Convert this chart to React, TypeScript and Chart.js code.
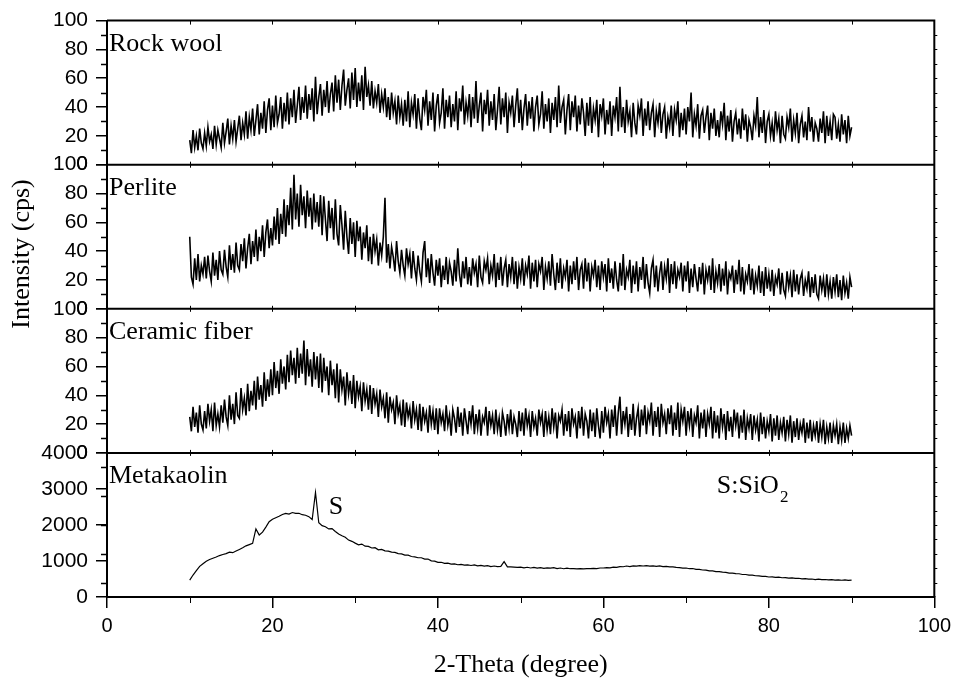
import React, { useEffect, useRef } from "react";
import { Chart, registerables } from "chart.js";

Chart.register(...registerables);

// Scan grids (2-theta, degree)
const SCAN_START = 10;
const NOISY_STEP = 0.2; // Rock wool, Perlite, Ceramic fiber
const MK_STEP = 0.4; // Metakaolin

const panelNames = ["Rock wool", "Perlite", "Ceramic fiber", "Metakaolin"];
const xTickValues = [0, 20, 40, 60, 80, 100];

// Intensity (cps), 10..90 deg
const rockWool = [
  17, 8, 24, 12, 20, 10, 25, 15, 11, 22,
  13, 26, 16, 21, 11, 27, 14, 24, 18, 12,
  29, 15, 23, 32, 14, 27, 18, 31, 16, 25,
  34, 17, 29, 21, 37, 18, 33, 24, 39, 20,
  31, 42, 21, 36, 25, 44, 22, 38, 46, 24,
  41, 26, 48, 29, 35, 47, 25, 43, 30, 50,
  28, 46, 33, 52, 29, 41, 54, 31, 47, 36,
  55, 32, 49, 38, 53, 30, 61, 35, 47, 56,
  34, 52, 40, 58, 36, 49, 57, 37, 62, 43,
  59, 38, 55, 66, 41, 52, 60, 39, 64, 45,
  67, 40, 57, 44, 62, 38, 68, 47, 55, 41,
  58, 39, 51, 43, 56, 36, 49, 40, 53, 33,
  47, 31, 50, 36, 44, 28, 48, 33, 42, 27,
  45, 30, 51, 26, 43, 35, 49, 25, 46, 32,
  24, 47, 38, 52, 27, 44, 31, 50, 23, 41,
  49, 29, 36, 53, 25, 45, 33, 48, 26, 42,
  30, 51, 24, 46, 37, 55, 28, 43, 34, 49,
  26, 47, 32, 58, 29, 41, 50, 23, 45, 35,
  52, 27, 44, 31, 49, 24, 38, 54, 28, 46,
  33, 50, 22, 43, 36, 48, 26, 41, 53, 29,
  45, 24, 39, 49, 27, 44, 32, 47, 23, 40,
  48, 28, 35, 51, 25, 42, 30, 46, 22, 43,
  31, 47, 26, 55, 29, 40, 45, 21, 38, 49,
  24, 44, 33, 48, 23, 41, 28, 46, 36, 20,
  43, 27, 47, 22, 39, 31, 45, 19, 42, 34,
  46, 21, 38, 28, 44, 20, 41, 33, 47, 23,
  54, 26, 40, 22, 45, 30, 37, 19, 43, 29,
  21, 41, 34, 46, 20, 39, 27, 44, 24, 36,
  42, 19, 37, 29, 43, 22, 35, 40, 18, 33,
  26, 41, 20, 38, 31, 44, 19, 36, 24, 39,
  21, 40, 30, 50, 19, 35, 27, 42, 18, 34,
  38, 22, 33, 41, 17, 36, 25, 39, 20, 31,
  19, 37, 28, 43, 17, 34, 23, 38, 16, 30,
  36, 21, 32, 18, 39, 24, 35, 16, 31, 26,
  17, 34, 27, 47, 19, 33, 22, 38, 15, 30,
  35, 20, 29, 16, 37, 24, 32, 15, 34, 21,
  18, 33, 26, 39, 16, 31, 22, 36, 15, 28,
  34, 19, 30, 17, 40, 23, 33, 16, 29, 25,
  16, 32, 22, 37, 15, 34, 20, 30, 17, 35,
  33, 18, 28, 16, 35, 21, 31, 15, 34, 20,
  26,
];

const perlite = [
  50, 22, 17, 35, 20, 38, 19, 30, 24, 36,
  21, 37, 26, 19, 39, 23, 34, 20, 40, 27,
  24, 41, 29, 22, 44, 27, 38, 25, 46, 30,
  27, 45, 33, 49, 28, 42, 52, 31, 47, 36,
  55, 33, 50, 40, 58, 36, 53, 62, 42, 56,
  44, 64, 48, 70, 45, 66, 52, 76, 50, 72,
  58, 84, 55, 93, 62, 80, 57, 86, 65, 78,
  56, 82, 64, 77, 55, 80, 60, 74, 57, 79,
  51, 78, 62, 47, 75, 56, 70, 48, 76, 52,
  44, 72, 58, 41, 68, 50, 38, 63, 45, 60,
  36, 61, 47, 57, 34, 53, 42, 58, 33, 50,
  31, 52, 40, 48, 30, 46, 37, 50, 77, 32,
  45, 28, 43, 36, 26, 47, 33, 25, 41, 30,
  23, 42, 31, 38, 21, 40, 28, 20, 37, 26,
  19, 39, 47, 22, 35, 18, 38, 25, 16, 34,
  23, 35, 15, 30, 20, 36, 17, 32, 26, 16,
  34, 19, 42, 24, 15, 33, 21, 36, 17, 29,
  16, 35, 25, 31, 15, 37, 22, 18, 33, 27,
  35, 17, 30, 23, 38, 15, 32, 20, 36, 16,
  28, 34, 15, 31, 22, 36, 17, 33, 14, 29,
  21, 35, 16, 30, 24, 37, 14, 32, 19, 34,
  15, 31, 26, 36, 13, 29, 21, 33, 16, 38,
  24, 13, 32, 18, 35, 14, 28, 22, 34, 12,
  30, 17, 33, 20, 36, 13, 27, 31, 14, 35,
  19, 32, 12, 29, 23, 34, 15, 30, 13, 33,
  22, 31, 12, 35, 18, 28, 14, 33, 20, 12,
  32, 16, 38, 13, 27, 22, 34, 11, 30, 17,
  33, 12, 29, 20, 36, 14, 31, 18, 11, 28,
  34, 15, 30, 12, 25, 33, 13, 29, 21, 35,
  11, 31, 17, 33, 14, 27, 22, 32, 12, 30,
  19, 33, 11, 28, 15, 31, 21, 12, 29, 17,
  32, 10, 27, 20, 30, 13, 35, 11, 26, 18,
  31, 12, 28, 16, 33, 10, 25, 21, 30, 11,
  27, 17, 34, 12, 29, 10, 24, 19, 31, 13,
  28, 10, 23, 16, 30, 11, 26, 9, 29, 14,
  24, 12, 27, 9, 22, 17, 28, 10, 25, 13,
  9, 26, 15, 23, 8, 27, 12, 24, 10, 21,
  25, 9, 20, 14, 26, 8, 22, 11, 24, 10,
  7, 23, 13, 21, 8, 24, 10, 19, 7, 22,
  12, 24, 8, 20, 6, 23, 11, 18, 7, 22,
  15,
];

const ceramicFiber = [
  25, 15, 32, 18, 28, 14, 33, 20, 16, 29,
  17, 34, 22, 30, 15, 35, 19, 27, 18, 33,
  21, 37, 25, 19, 40, 23, 34, 20, 42, 26,
  24, 45, 30, 38, 26, 48, 29, 43, 33, 50,
  30, 53, 37, 47, 32, 56, 36, 51, 39, 58,
  40, 63, 45, 57, 41, 65, 48, 60, 44, 68,
  49, 71, 54, 66, 48, 73, 52, 69, 55, 78,
  47, 72, 53, 65, 46, 70, 51, 67, 45, 69,
  42, 66, 50, 60, 40, 64, 47, 58, 38, 62,
  35, 58, 44, 53, 33, 56, 41, 50, 34, 54,
  31, 50, 39, 46, 29, 49, 36, 44, 30, 47,
  27, 45, 34, 41, 25, 44, 32, 38, 24, 42,
  21, 39, 30, 35, 20, 40, 27, 33, 19, 37,
  18, 35, 25, 31, 17, 36, 23, 30, 16, 34,
  15, 32, 22, 28, 14, 33, 20, 29, 16, 31,
  13, 31, 21, 27, 15, 33, 19, 26, 12, 30,
  24, 14, 32, 18, 28, 12, 31, 22, 13, 29,
  20, 33, 13, 27, 17, 30, 12, 25, 21, 32,
  12, 29, 19, 26, 13, 30, 16, 24, 11, 28,
  22, 12, 27, 17, 30, 13, 25, 20, 11, 29,
  15, 28, 12, 31, 19, 26, 11, 29, 18, 24,
  12, 30, 21, 27, 11, 29, 16, 25, 13, 31,
  18, 28, 10, 26, 22, 30, 12, 27, 15, 29,
  11, 31, 20, 25, 10, 29, 17, 32, 12, 27,
  22, 10, 30, 15, 28, 11, 31, 19, 10, 29,
  14, 32, 21, 27, 10, 30, 18, 33, 12, 28,
  39, 13, 29, 20, 32, 11, 27, 16, 34, 12,
  24, 31, 11, 30, 19, 33, 13, 28, 22, 35,
  12, 29, 18, 32, 11, 34, 21, 27, 13, 31,
  20, 33, 12, 28, 16, 35, 11, 30, 22, 32,
  12, 29, 19, 31, 11, 26, 21, 33, 10, 28,
  17, 30, 11, 27, 20, 32, 10, 29, 14, 26,
  10, 31, 18, 27, 9, 29, 15, 25, 11, 30,
  19, 28, 10, 26, 14, 30, 9, 24, 17, 27,
  9, 26, 16, 23, 8, 28, 13, 25, 10, 22,
  15, 27, 8, 24, 12, 26, 9, 21, 14, 25,
  8, 23, 13, 26, 7, 22, 11, 24, 9, 20,
  14, 24, 7, 21, 10, 23, 8, 19, 12, 22,
  7, 20, 11, 23, 6, 18, 10, 21, 7, 19,
  12, 20, 6, 18, 9, 21, 7, 17, 10, 19,
  12,
];

const metakaolin = [
  470, 610, 730, 850, 925, 995, 1040, 1075, 1110, 1150,
  1180, 1205, 1245, 1230, 1275, 1320, 1365, 1420, 1455, 1490,
  1890, 1720, 1800, 1940, 2090, 2160, 2200, 2240, 2290, 2320,
  2300, 2345, 2320, 2325, 2285, 2270, 2230, 2150, 2900, 2060,
  1980, 1950, 1890, 1900, 1820, 1750, 1700, 1660, 1580, 1545,
  1495, 1450, 1470, 1410, 1405, 1360, 1370, 1310, 1320, 1280,
  1275, 1245, 1240, 1205, 1195, 1165, 1160, 1125, 1115, 1090,
  1090, 1050, 1055, 1005, 995, 960, 965, 935, 940, 915,
  920, 895, 905, 885, 890, 875, 890, 865, 880, 855,
  870, 845, 860, 845, 850, 980, 835, 835, 830, 820,
  830, 810, 825, 805, 820, 800, 815, 795, 810, 800,
  815, 790, 805, 785, 800, 785, 790, 780, 790, 780,
  785, 785, 795, 790, 805, 805, 815, 810, 830, 825,
  845, 840, 860, 845, 865, 855, 870, 860, 870, 855,
  865, 850, 865, 845, 850, 835, 835, 820, 815, 800,
  805, 785, 790, 765, 765, 750, 745, 725, 725, 705,
  705, 690, 685, 665, 665, 650, 645, 625, 625, 605,
  605, 590, 585, 570, 570, 555, 560, 545, 550, 535,
  540, 525, 530, 515, 520, 505, 510, 495, 500, 485,
  495, 480, 485, 475, 480, 470, 475, 465, 475, 460,
  470,
];

const SANS = '"Liberation Sans", Arial, sans-serif';
const SERIF = '"Liberation Serif", "Times New Roman", serif';

const toPoints = (vals: number[], step: number) =>
  vals.map((v, i) => ({ x: SCAN_START + i * step, y: v }));

const panelIds = ["yRW", "yPL", "yCF", "yMK"];

function yAxis(max: number, step: number, weight: number) {
  return {
    type: "linear",
    position: "left",
    stack: "panels",
    stackWeight: 1,
    weight,
    min: 0,
    max,
    ticks: {
      stepSize: step,
      autoSkip: false,
      color: "#000",
      font: { family: SANS, size: 21 },
      padding: 8,
      callback: (v: number) => String(v),
    },
    grid: {
      drawOnChartArea: false,
      drawTicks: true,
      tickLength: 11,
      color: "#000",
      lineWidth: 1.5,
    },
    border: { display: true, color: "#000", width: 2 },
    afterFit: (s: any) => {
      s.width = 107;
    },
  };
}

const decorPlugin = {
  id: "decor",
  afterDraw(chart: any) {
    const ctx = chart.ctx;
    const { left, right, top, bottom } = chart.chartArea;
    const xs = chart.scales.x;
    ctx.save();
    ctx.strokeStyle = "#000";
    ctx.fillStyle = "#000";

    // frame: top, right, dividers
    ctx.lineWidth = 2;
    ctx.beginPath();
    ctx.moveTo(left, top);
    ctx.lineTo(right, top);
    ctx.lineTo(right, bottom);
    for (const id of panelIds.slice(1)) {
      const s = chart.scales[id];
      ctx.moveTo(left, s.top);
      ctx.lineTo(right, s.top);
    }
    ctx.stroke();

    // small ticks on top and dividers every 10 deg
    ctx.lineWidth = 1;
    ctx.beginPath();
    for (let v = 10; v < 100; v += 10) {
      const px = Math.round(xs.getPixelForValue(v)) + 0.5;
      ctx.moveTo(px, top);
      ctx.lineTo(px, top + 4);
      for (const id of panelIds.slice(1)) {
        const s = chart.scales[id];
        ctx.moveTo(px, s.top - 3);
        ctx.lineTo(px, s.top + 3);
      }
    }
    // minor x ticks
    for (let v = 10; v < 100; v += 20) {
      const px = Math.round(xs.getPixelForValue(v)) + 0.5;
      ctx.moveTo(px, bottom);
      ctx.lineTo(px, bottom + 6);
    }
    ctx.stroke();

    // minor y ticks on left, small ticks on right
    ctx.lineWidth = 1.5;
    ctx.beginPath();
    for (const id of panelIds) {
      const s = chart.scales[id];
      const step = s.max / 10;
      for (let k = 1; k < 10; k += 2) {
        const py = Math.round(s.getPixelForValue(k * step)) + 0.5;
        ctx.moveTo(left - 6, py);
        ctx.lineTo(left, py);
      }
    }
    ctx.stroke();
    ctx.lineWidth = 1;
    ctx.beginPath();
    for (const id of panelIds) {
      const s = chart.scales[id];
      const step = s.max / 10;
      for (let k = 1; k < 10; k++) {
        const py = Math.round(s.getPixelForValue(k * step)) + 0.5;
        ctx.moveTo(right, py);
        ctx.lineTo(right + 3, py);
      }
    }
    ctx.stroke();

    // panel names
    ctx.font = `26px ${SERIF}`;
    ctx.textAlign = "left";
    ctx.textBaseline = "alphabetic";
    panelIds.forEach((id, i) => {
      const s = chart.scales[id];
      ctx.fillText(panelNames[i], left + 2, s.top + 30);
    });

    // annotations in Metakaolin panel
    const mk = chart.scales.yMK;
    ctx.fillText("S", xs.getPixelForValue(26.8), mk.getPixelForValue(2300));
    const sx = xs.getPixelForValue(73.7);
    const sy = mk.getPixelForValue(2890);
    ctx.fillText("S:SiO", sx, sy);
    const w = ctx.measureText("S:SiO").width;
    ctx.font = `17px ${SERIF}`;
    ctx.fillText("2", sx + w + 1, sy + 9);

    // y title
    ctx.font = `26px ${SERIF}`;
    ctx.translate(22, 254);
    ctx.rotate(-Math.PI / 2);
    ctx.textAlign = "center";
    ctx.textBaseline = "middle";
    ctx.fillText("Intensity (cps)", 0, 0);
    ctx.restore();
  },
};

export default function App() {
  const ref = useRef<HTMLCanvasElement | null>(null);

  useEffect(() => {
    if (!ref.current) return;
    const ds = (vals: number[], step: number, yAxisID: string, bw: number) => ({
      data: toPoints(vals, step),
      yAxisID,
      xAxisID: "x",
      borderColor: "#000",
      borderWidth: bw,
      pointRadius: 0,
      tension: 0,
      fill: false,
    });
    const chart = new Chart(ref.current, {
      type: "line",
      data: {
        datasets: [
          ds(rockWool, NOISY_STEP, "yRW", 1.6),
          ds(perlite, NOISY_STEP, "yPL", 1.6),
          ds(ceramicFiber, NOISY_STEP, "yCF", 1.6),
          ds(metakaolin, MK_STEP, "yMK", 1.2),
        ],
      },
      options: {
        responsive: false,
        animation: false,
        events: [],
        layout: { padding: { left: 0, right: 22, top: 19, bottom: 0 } },
        plugins: {
          legend: { display: false },
          tooltip: { enabled: false },
        },
        scales: {
          x: {
            type: "linear",
            position: "bottom",
            min: 0,
            max: 100,
            afterBuildTicks: (s: any) => {
              s.ticks = xTickValues.map((v) => ({ value: v }));
            },
            ticks: {
              autoSkip: false,
              color: "#000",
              font: { family: SANS, size: 20 },
              padding: 6,
              maxRotation: 0,
              callback: (v: number) => String(v),
            },
            grid: {
              drawOnChartArea: false,
              drawTicks: true,
              tickLength: 11,
              color: "#000",
              lineWidth: 1.5,
            },
            border: { display: true, color: "#000", width: 2 },
            title: {
              display: true,
              text: "2-Theta (degree)",
              color: "#000",
              font: { family: SERIF, size: 26 },
              padding: { top: 0, bottom: 8 },
            },
            afterFit: (s: any) => {
              s.height = 92;
            },
          },
          yRW: yAxis(100, 20, 4),
          yPL: yAxis(100, 20, 3),
          yCF: yAxis(100, 20, 2),
          yMK: yAxis(4000, 1000, 1),
        } as any,
      },
      plugins: [decorPlugin],
    } as any);
    return () => chart.destroy();
  }, []);

  return (
    <div
      style={{
        position: "fixed",
        left: 0,
        top: 0,
        width: 957,
        height: 689,
        background: "#fff",
      }}
    >
      <canvas ref={ref} width={957} height={689} style={{ display: "block" }} />
    </div>
  );
}
